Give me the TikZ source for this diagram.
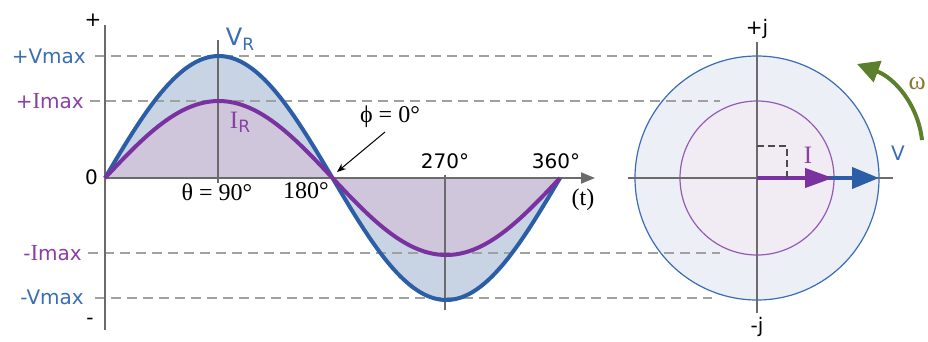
\documentclass[tikz,border=0pt]{standalone}
\usepackage{fontspec}
\setmainfont{DejaVu Sans}
\newfontfamily\serifface{Liberation Serif}
\usepackage{xcolor}
\usetikzlibrary{arrows.meta, positioning}
\definecolor{vblue}{HTML}{2B5EA7}
\definecolor{ipurple}{HTML}{7A32A0}
\definecolor{vfill}{HTML}{C8D4E4}
\definecolor{ifill}{HTML}{D0C6DC}
\definecolor{vdisk}{HTML}{ECEFF5}
\definecolor{idisk}{HTML}{F1EBF4}
\definecolor{vtext}{HTML}{3A6DB5}
\definecolor{itext}{HTML}{8A3FA8}
\definecolor{axisgray}{HTML}{6B6B6B}
\definecolor{guidegray}{HTML}{A0A0A0}
\definecolor{omegagreen}{HTML}{5B7F2A}
\definecolor{omegatext}{HTML}{8A7A30}

\begin{document}
\begin{tikzpicture}[x=1pt, y=-1pt,
  axisline/.style={line width=2pt, draw=axisgray},
  guide/.style={line width=1.5pt, draw=guidegray, dash pattern=on 10pt off 6pt},
  wave/.style={line width=4pt, line join=round},
  lbl/.style={inner sep=0pt, font=\fontsize{20}{24}\selectfont},
  slbl/.style={inner sep=0pt, font=\fontsize{24}{28}\selectfont\serifface}]
  \useasboundingbox (0,0) rectangle (928,341);

  % Key points
  \coordinate (O) at (105,178);
  \coordinate (tEnd) at (595,178);
  \coordinate (yTop) at (105,25);
  \coordinate (yBot) at (105,330);
  \coordinate (o180) at (337,172);
  \coordinate (phiA) at (385,132);
  \coordinate (P) at (757,178);

  % Phasor discs
  \draw[vtext, line width=1.2pt, fill=vdisk] (P) circle (122);
  \draw[ipurple!80, line width=1.2pt, fill=idisk] (P) circle (77);

  % Waveform fills
  \fill[vfill] plot[domain=0:360, samples=121] ({105+\x/360*455}, {178-122*sin(\x)}) -- cycle;
  \fill[ifill] plot[domain=0:360, samples=121] ({105+\x/360*455}, {178-77*sin(\x)}) -- cycle;

  % Guide lines
  \draw[guide] (95,56) -- (712,56);
  \draw[guide] (90,101) -- (720,101);
  \draw[guide] (88,253) -- (720,253);
  \draw[guide] (95,298) -- (712,298);

  % Axes
  \draw[axisline] (yTop) -- (yBot);
  \draw[axisline, -{Triangle[length=14pt,width=11pt]}] (O) -- (tEnd);
  \draw[axisline] (218,40) -- (218,183);
  \draw[axisline] (445,175) -- (445,310);
  \draw[axisline] (628,178) -- (893,178);
  \draw[axisline, line width=1.5pt] (757,42) -- (757,313);

  % Waves
  \draw[wave, vblue] plot[domain=0:360, samples=121] ({105+\x/360*455}, {178-122*sin(\x)});
  \draw[wave, ipurple] plot[domain=0:360, samples=121] ({105+\x/360*455}, {178-77*sin(\x)});

  % Left labels
  \node[lbl, anchor=south] (plus) at (93,27) {+};
  \node[lbl, anchor=north] (minus) at (90,318) {-};
  \node[lbl, text=vtext, anchor=east] (vmaxp) at (86,56) {+Vmax};
  \node[lbl, text=itext, anchor=east] (imaxp) at (84,101) {+{\serifface\fontsize{23}{26}\selectfont I}max};
  \node[lbl, anchor=east] (zero) at (98,177) {0};
  \node[lbl, text=itext, anchor=east] (imaxn) at (82,253) {-{\serifface\fontsize{23}{26}\selectfont I}max};
  \node[lbl, text=vtext, anchor=east] (vmaxn) at (84,297) {-Vmax};

  % Wave labels
  \node[lbl, text=vtext, font=\fontsize{24}{28}\selectfont] (vr) at (240,39) {V\raisebox{-0.35ex}{\fontsize{17}{20}\selectfont R}};
  \node[lbl, text=itext] (ir) at (240,122) {{\serifface\fontsize{25}{28}\selectfont I}\raisebox{-0.35ex}{\fontsize{17}{20}\selectfont R}};
  \node[slbl] (theta) at (217,192) {θ = 90°};
  \node[slbl] (d180) at (306,191) {180°};
  \node[slbl] (phi) at (390,117) {ϕ = 0°};
  \node[lbl] (d270) at (445,161) {270°};
  \node[lbl] (d360) at (556,161) {360°};
  \node[slbl] (t) at (583,200) {(t)};
  \draw[line width=1pt, -{Stealth[length=9pt,width=7pt]}] (phiA) -- (o180);

  % Phasors
  \coordinate (Itip) at (833,178);
  \coordinate (Vtip) at (879,178);
  \draw[vblue, line width=4pt, -{Triangle[length=27pt,width=21pt]}] (P) -- (Vtip);
  \draw[ipurple, line width=4pt, -{Triangle[length=28pt,width=19pt]}] (P) -- (Itip);
  \draw[black!70, line width=2pt, dash pattern=on 7pt off 4pt] (757,146) -- (787,146) -- (787,178);
  \node[lbl, text=itext] (ilbl) at (808,155) {{\serifface\fontsize{25}{28}\selectfont I}};
  \node[lbl, text=vtext] (vlbl) at (898,153) {V};
  \node[lbl] (pj) at (757,29) {+j};
  \node[lbl] (mj) at (757,327) {-j};

  % Rotation
  \coordinate (wStart) at (922,140);
  \coordinate (wEnd) at (857,64);
  \draw[omegagreen, line width=4pt, -{Triangle[length=22pt,width=22pt]}] (wStart) .. controls (918,105) and (895,78) .. (wEnd);
  \node[inner sep=0pt, text=omegatext, font=\fontsize{26}{30}\selectfont\serifface, anchor=east] (omega) at (926,84) {ω};
\end{tikzpicture}
\end{document}
